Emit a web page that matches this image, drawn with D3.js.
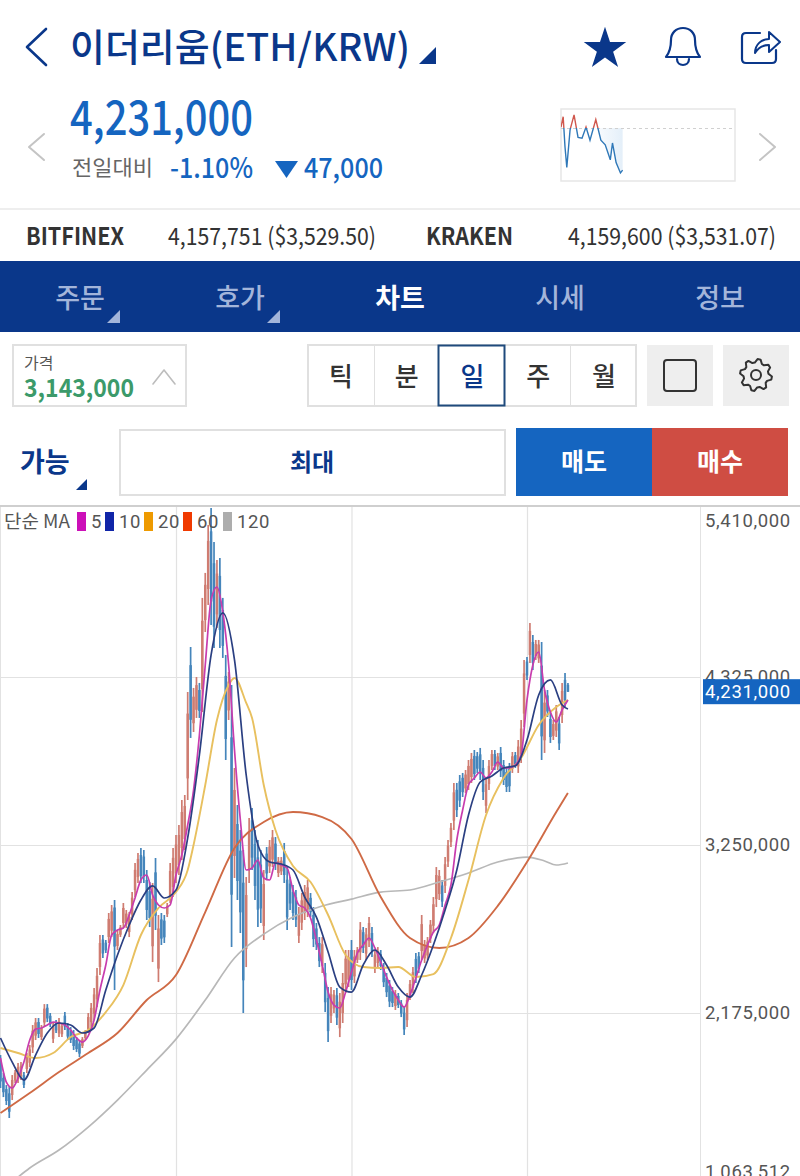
<!DOCTYPE html>
<html>
<head>
<meta charset="utf-8">
<style>
  html, body { margin: 0; padding: 0; background: #fff; }
  svg { display: block; }
  text { font-family: "Noto Sans CJK KR", Roboto, sans-serif; }
  .num { font-family: Roboto, "Noto Sans CJK KR", sans-serif; }
</style>
<script src="https://cdn.jsdelivr.net/npm/d3@7"></script>
</head>
<body>
<div id="chart"></div>
<script>
// prices below are in thousands of KRW
const candleOpen = [1864,1760,1688,1661,1650,1744,1753,1769,1777,1817,1857,1955,2030,2117,2021,2114,2209,2157,2010,2113,2045,2039,2158,2089,2065,2040,2002,1980,1965,2015,2073,2116,2171,2263,2469,2645,2625,2661,2702,2850,2604,2676,2751,2742,2693,2806,2961,3045,3186,3176,3026,2955,2602,3075,2459,2774,2766,2807,2930,2980,3068,3122,3231,3288,3676,4401,4029,4115,4242,4247,4689,4888,5257,5053,4726,4972,4754,4332,4111,3939,3180,3384,3214,3009,2584,3090,3408,3256,3171,3125,2732,3195,3113,3156,3259,3071,3081,3212,3028,3003,2949,2915,2669,2753,2815,2836,2912,2802,2716,2623,2477,2432,2271,2157,2204,2288,2077,2175,2358,2388,2578,2409,2515,2563,2692,2555,2635,2687,2460,2495,2552,2464,2400,2351,2315,2220,2284,2236,2177,2129,2284,2336,2521,2538,2572,2524,2543,2652,2733,2904,2936,2991,2989,3144,3268,3406,3603,3657,3680,3612,3640,3685,3820,3818,3830,3743,3501,3640,3756,3832,3752,3839,3762,3717,3738,3738,3825,3753,3830,4091,4424,4466,4549,4460,4444,4398,3920,4207,4057,3948,3982,4027,4082,4307,4275];
const candleHigh = [1906,1791,1714,1701,1778,1810,1855,1861,1797,1919,1970,2098,2143,2143,2098,2232,2232,2175,2117,2130,2143,2111,2181,2111,2085,2066,2021,2002,2021,2066,2175,2239,2335,2463,2674,2674,2642,2815,2866,2898,2706,2738,2879,2834,2821,2949,3135,3199,3231,3218,3090,3013,3007,3167,2802,2815,2802,2879,3135,3231,3314,3378,3538,3570,4229,4517,4255,4325,4287,4831,4991,5298,5407,5189,5074,5087,4831,4466,4357,4274,3743,3506,3346,3218,3045,3423,3487,3346,3282,3218,3090,3237,3282,3346,3301,3173,3173,3263,3109,3045,2994,2962,2853,2943,2994,3026,2943,2853,2751,2661,2661,2495,2341,2341,2322,2335,2303,2431,2578,2578,2642,2578,2597,2757,2725,2719,2789,2725,2578,2597,2578,2495,2431,2386,2341,2322,2303,2258,2213,2303,2386,2469,2559,2565,2802,2642,2661,2770,2917,3109,3090,3026,3173,3282,3391,3647,3647,3698,3711,3730,3794,3839,3858,3845,3871,3794,3685,3794,3858,3858,3839,3877,3794,3749,3775,3845,3845,3922,4050,4434,4453,4671,4594,4562,4562,4549,4242,4242,4095,4050,4146,4069,4287,4351,4287];
const candleLow = [1695,1637,1586,1503,1618,1727,1727,1746,1695,1791,1829,1919,2002,2015,2002,2085,2117,2085,1983,2047,2021,2021,2066,2002,1983,1938,1925,1893,1951,2002,2047,2085,2130,2213,2418,2527,2559,2623,2661,2322,2578,2661,2719,2719,2661,2770,2917,3007,3007,3007,2770,2725,2501,2706,2373,2610,2623,2789,2879,2917,3007,3058,3154,3218,3538,3935,3973,4063,4063,4101,4613,4786,4658,4511,4639,4511,4447,3794,4050,2597,3039,2898,2687,2175,2469,3007,3090,2898,2725,2751,2642,3026,3071,3109,3090,3045,3058,3007,2706,2834,2770,2725,2623,2706,2770,2789,2789,2597,2578,2469,2431,2181,1989,2111,2175,2098,2021,2111,2303,2341,2322,2367,2495,2514,2559,2514,2597,2533,2431,2469,2450,2341,2277,2213,2213,2194,2207,2149,2034,2085,2258,2303,2367,2431,2514,2495,2514,2623,2687,2853,2898,2853,2943,3109,3237,3346,3429,3493,3557,3583,3602,3647,3666,3711,3666,3538,3455,3602,3730,3730,3730,3685,3634,3589,3589,3711,3743,3711,3775,4005,4306,4415,4370,4434,4415,3794,3839,4069,3903,3922,3941,3858,4031,4133,4229];
const candleClose = [1737,1668,1612,1543,1746,1793,1829,1838,1715,1893,1942,2062,2115,2041,2079,2203,2140,2103,2090,2064,2119,2093,2089,2024,2003,1964,1944,1915,2007,2053,2149,2208,2294,2413,2623,2556,2576,2777,2825,2600,2680,2723,2847,2811,2789,2913,3091,3161,3052,3049,2834,2783,2906,2798,2716,2651,2659,2861,3084,3168,3253,3314,3461,3500,4091,4051,4199,4273,4108,4685,4915,5196,4808,4647,4987,4626,4524,3928,4296,2932,3602,3020,2819,2384,2930,3340,3169,2988,2836,2844,3000,3068,3240,3299,3132,3147,3150,3058,2787,2876,2815,2772,2807,2896,2949,2979,2820,2648,2613,2507,2615,2244,2059,2295,2293,2145,2247,2367,2523,2531,2386,2536,2577,2708,2592,2678,2751,2571,2549,2571,2476,2372,2308,2248,2239,2296,2226,2171,2070,2259,2360,2436,2405,2458,2744,2613,2632,2741,2871,3058,3052,2888,3127,3247,3360,3587,3473,3534,3588,3701,3756,3801,3704,3738,3707,3589,3639,3756,3832,3756,3817,3723,3666,3621,3626,3818,3763,3880,3995,4348,4335,4620,4415,4536,4533,3945,4161,4104,3941,4024,4105,3900,4236,4177,4231];

const ma5Days = d3.range(0, 195, 2);
const ma5 = [1887,1733,1695,1759,1861,2002,2072,2079,2098,2117,2111,2098,2066,2015,1989,2028,2130,2322,2482,2674,2706,2719,2802,2911,3026,3058,2930,2866,2847,2866,3058,3186,3378,3602,3954,4402,4818,4901,4741,4402,3858,3410,3090,3103,3154,3039,3026,3135,3122,3103,2962,2866,2847,2783,2642,2482,2309,2226,2207,2309,2437,2559,2610,2655,2591,2501,2405,2322,2258,2213,2290,2399,2514,2610,2693,2738,2866,2994,3282,3474,3634,3679,3717,3679,3717,3781,3743,3743,3762,3826,4178,4402,4485,4242,4101,4037,4114,4178];
const ma10Days = [...d3.range(0, 193, 4), 194];
const ma10 = [2015,1861,1746,1906,2047,2111,2098,2047,2079,2322,2546,2738,2898,2988,2911,2962,3295,3826,4466,4735,4434,3698,3250,3141,3128,3090,2917,2789,2565,2341,2309,2482,2578,2482,2341,2277,2418,2610,2834,3090,3442,3653,3692,3743,3756,3922,4210,4306,4146,4120];
const ma20Days = [0,6,12,18,24,30,36,42,48,54,60,64,66,70,74,78,80,84,86,90,94,100,106,112,118,124,130,136,142,148,154,160,166,172,178,184,190,194];
const ma20 = [1951,1919,1887,1919,2021,2066,2181,2354,2674,2847,2949,3090,3250,3634,4050,4274,4319,4159,4063,3634,3346,3116,3013,2802,2546,2469,2463,2469,2405,2424,2655,3026,3442,3679,3807,4018,4133,4178];
const ma60Days = [...d3.range(0, 191, 10), 194];
const ma60 = [1535,1663,1797,1919,2047,2258,2418,2821,3231,3397,3461,3429,3288,2917,2655,2591,2655,2860,3141,3461,3583];
const ma120Days = [6,10,20,30,40,50,60,70,80,90,100,110,120,130,140,150,160,170,180,186,190,194];
const ma120 = [1125,1183,1298,1445,1618,1810,2008,2258,2527,2680,2789,2860,2904,2949,2962,3013,3071,3141,3173,3148,3122,3135];

const yTicks = [5410, 4325, 3250, 2175, 1063.512];
const gridPrices = [4325, 3250, 2175];
const gridDays = [60, 120, 180];
const lastPrice = 4231;

// intraday sparkline in the header box
const sparkHours = [0,0.3,0.55,0.8,1.25,1.8,2.35,2.9,3.45,4,4.8,5.5,6.1,6.8,7.1,7.6,8.2,8.5];
const sparkPrices = [4279,4290,4258,4236,4276,4292,4268,4267,4279,4265,4287,4265,4260,4244,4262,4241,4230,4233];
const sparkPrevClose = 4278;

const navLabels = ['주문', '호가', '차트', '시세', '정보'];
const periodLabels = ['틱', '분', '일', '주', '월'];
const maNames = ['5', '10', '20', '60', '120'];
const maSwatch = ['#cc10b8', '#1025a8', '#ee9a00', '#f03a00', '#adadad'];

const navy = '#0a378a';
const blue = '#1565c0';

const svg = d3.select('#chart').append('svg')
    .attr('width', 800)
    .attr('height', 1176)
    .attr('viewBox', [0, 0, 800, 1176]);

function label(text, x, y, size, fill, opts = {}) {
    const t = svg.append('text')
        .attr('x', x)
        .attr('y', y)
        .attr('font-size', size)
        .attr('fill', fill)
        .attr('font-weight', opts.weight || 400)
        .attr('text-anchor', opts.anchor || 'start')
        .text(text);
    if (opts.cls) t.attr('class', opts.cls);
    if (opts.width) t.attr('textLength', opts.width).attr('lengthAdjust', 'spacingAndGlyphs');
    return t;
}

function stroke(d, color, width) {
    return svg.append('path').attr('d', d).attr('fill', 'none').attr('stroke', color)
        .attr('stroke-width', width).attr('stroke-linecap', 'round').attr('stroke-linejoin', 'round');
}

function box(x, y, w, h, fill, line, lineWidth = 2) {
    return svg.append('rect').attr('x', x).attr('y', y).attr('width', w).attr('height', h)
        .attr('fill', fill).attr('stroke', line || 'none').attr('stroke-width', lineWidth);
}

function tri(d, fill) {
    svg.append('path').attr('d', d).attr('fill', fill);
}

// Header
stroke('M46,29 L27,47 L46,65', navy, 2.6);
label('이더리움(ETH/KRW)', 70, 61, 38, navy, {weight: 500, width: 340});
tri('M436,47 L436,64 L419,64 Z', navy);
svg.append('path')
    .attr('d', d3.symbol(d3.symbolStar, 560)())
    .attr('transform', 'translate(605,49)')
    .attr('fill', navy);
stroke('M666,57 c4,-5 5,-10 5,-17 c0,-7 5,-12 12,-12 c7,0 12,5 12,12 c0,7 1,12 5,17 Z', navy, 2.2);
stroke('M677,59 c0,8 12,8 12,0', navy, 2.2);
stroke('M760,33 H746 q-4,0 -4,4 V59 q0,4 4,4 H772 q4,0 4,-4 V50', navy, 2.2);
stroke('M755,53 c0,-9 7,-14 14,-14 v-7 l11,10 l-11,10 v-7 c-6,0 -11,3 -14,8 Z', navy, 2);

label('4,231,000', 70, 135, 47, blue, {weight: 500, width: 183});
stroke('M44,134 L29,147 L44,160', '#c4c4c4', 2);
stroke('M760,134 L775,147 L760,160', '#c4c4c4', 2);
label('전일대비', 72, 175, 21, '#666', {width: 81});
label('-1.10%', 170, 178, 28, blue, {weight: 500, width: 83});
tri('M275,161 H298 L286.5,178 Z', blue);
label('47,000', 304, 178, 28, blue, {weight: 500, width: 79});

// Sparkline box
const sparkX = d3.scaleLinear().domain([0, 24]).range([561, 735]);
const sparkY = d3.scaleLinear().domain([sparkPrevClose, lastPrice]).range([128, 172]);
box(561, 109, 174, 72, '#fff', '#e6e6e6', 1.5);
const defs = svg.append('defs');
defs.append('clipPath').attr('id', 'sparkUp').append('rect').attr('x', 561).attr('y', 109).attr('width', 174).attr('height', 19);
defs.append('clipPath').attr('id', 'sparkDown').append('rect').attr('x', 561).attr('y', 128).attr('width', 174).attr('height', 53);
const sparkFade = defs.append('linearGradient').attr('id', 'sparkFade');
sparkFade.append('stop').attr('offset', '0.45').attr('stop-color', '#e4eff9').attr('stop-opacity', 0);
sparkFade.append('stop').attr('offset', '1').attr('stop-color', '#e4eff9').attr('stop-opacity', 1);
svg.append('path')
    .attr('d', d3.area().x((d, i) => sparkX(sparkHours[i])).y0(sparkY(sparkPrevClose)).y1(d => sparkY(d))(sparkPrices))
    .attr('fill', 'url(#sparkFade)')
    .attr('clip-path', 'url(#sparkDown)');
svg.append('line').attr('x1', 561).attr('x2', 735).attr('y1', 128.5).attr('y2', 128.5)
    .attr('stroke', '#d0d0d0').attr('stroke-dasharray', '3,3');
const sparkLine = d3.line().x((d, i) => sparkX(sparkHours[i])).y(d => sparkY(d));
[['sparkUp', '#d0584e'], ['sparkDown', '#2f78b8']].forEach(([clip, color]) => {
    svg.append('path').attr('d', sparkLine(sparkPrices)).attr('fill', 'none')
        .attr('stroke', color).attr('stroke-width', 1.4).attr('clip-path', `url(#${clip})`);
});

// Exchange strip
box(0, 208, 800, 2, '#eee');
label('BITFINEX', 26, 245, 24, '#333', {weight: 700, width: 98});
label('4,157,751 ($3,529.50)', 168, 245, 24, '#333', {width: 208});
label('KRAKEN', 426, 245, 24, '#333', {weight: 700, width: 87});
label('4,159,600 ($3,531.07)', 568, 245, 24, '#333', {width: 208});

// Nav bar
box(0, 261, 800, 71, navy);
navLabels.forEach((d, i) => {
    const active = d === '차트';
    label(d, 80 + i * 160, 308, 27, active ? '#fff' : '#a3b5da', {anchor: 'middle', weight: active ? 700 : 500});
});
tri('M120,310 V323 H107 Z', '#a3b5da');
tri('M280,310 V323 H267 Z', '#a3b5da');

// Order controls
box(13, 345, 173, 61, '#fff', '#e0e0e0');
label('가격', 24, 369, 16, '#555');
label('3,143,000', 24, 397, 25, '#3c9a6a', {weight: 700, width: 110});
stroke('M153,384 L164,370 L175,384', '#bdbdbd', 1.6);

box(308, 345, 328, 61, '#fff', '#e0e0e0');
[374, 570].forEach(x => box(x, 345, 1, 61, '#e0e0e0'));
periodLabels.forEach((d, i) => {
    label(d, 341 + i * 65.75, 386, 26, d === '일' ? navy : '#333', {anchor: 'middle', weight: 500});
});
box(438.5, 345.5, 66, 60, 'none', '#1f4a7c');

box(647, 345, 66, 61, '#eee');
svg.append('rect').attr('x', 664).attr('y', 360).attr('width', 32).attr('height', 31).attr('rx', 3)
    .attr('fill', 'none').attr('stroke', '#333').attr('stroke-width', 2);
box(723, 345, 66, 61, '#eee');
const gearRadii = d3.range(32).map(i => [(i + 0.5) * Math.PI / 16, i % 4 < 2 ? 16 : 12.5]);
svg.append('path')
    .attr('d', d3.lineRadial().curve(d3.curveLinearClosed)(gearRadii))
    .attr('transform', 'translate(756,375)')
    .attr('fill', 'none').attr('stroke', '#333').attr('stroke-width', 2).attr('stroke-linejoin', 'round');
svg.append('circle').attr('cx', 756).attr('cy', 375).attr('r', 5)
    .attr('fill', 'none').attr('stroke', '#333').attr('stroke-width', 2);

label('가능', 20, 472, 27, navy, {weight: 700});
tri('M87,479 V490 H76 Z', navy);
box(120, 430, 385, 65, '#fff', '#e0e0e0');
label('최대', 312, 471, 24, navy, {weight: 700, anchor: 'middle'});
box(516, 428, 136, 68, blue);
label('매도', 584, 471, 25, '#fff', {weight: 700, anchor: 'middle'});
box(652, 428, 136, 68, '#cf4d43');
label('매수', 720, 471, 25, '#fff', {weight: 700, anchor: 'middle'});

// Price chart
const x = d3.scaleLinear().domain([60, 120]).range([176, 351.5]);
const y = d3.scaleLinear().domain([2175, 4325]).range([1013, 677]);

box(0, 505, 800, 2, '#cfcfcf');

const plotW = 700, plotTop = 507, plotBottom = 1176;
defs.append('clipPath').attr('id', 'plot').append('rect')
    .attr('x', 0).attr('y', plotTop).attr('width', plotW).attr('height', plotBottom - plotTop);
defs.append('filter').attr('id', 'soft').append('feGaussianBlur').attr('stdDeviation', 0.35);

const gridY = svg.append('g').call(d3.axisLeft(y).tickValues(gridPrices).tickSize(-plotW).tickFormat(''));
const gridX = svg.append('g').attr('transform', `translate(0,${plotBottom})`)
    .call(d3.axisBottom(x).tickValues(gridDays).tickSize(-(plotBottom - plotTop)).tickFormat(''));
[gridY, gridX].forEach(g => {
    g.select('.domain').remove();
    g.selectAll('line').attr('stroke', '#e2e2e2').attr('stroke-width', 1.2);
});
box(0, plotTop, 1, plotBottom - plotTop, '#e2e2e2');
box(700, plotTop, 1, plotBottom - plotTop, '#e2e2e2');

const plot = svg.append('g').attr('clip-path', 'url(#plot)').append('g').attr('filter', 'url(#soft)');

const candleColor = i => candleClose[i] >= candleOpen[i] ? '#cf7c71' : '#4485bb';
const days = d3.range(candleOpen.length);
plot.append('g').selectAll('line').data(days).join('line')
    .attr('x1', i => x(i)).attr('x2', i => x(i))
    .attr('y1', i => y(candleHigh[i])).attr('y2', i => y(candleLow[i]))
    .attr('stroke', candleColor).attr('stroke-width', 1.7);
plot.append('g').selectAll('rect').data(days).join('rect')
    .attr('x', i => x(i) - 1.25).attr('width', 2.5)
    .attr('y', i => y(Math.max(candleOpen[i], candleClose[i])))
    .attr('height', i => Math.abs(y(candleOpen[i]) - y(candleClose[i])))
    .attr('fill', candleColor);

const maLines = [
    {days: ma120Days, values: ma120, color: '#b8b8b8', width: 1.7},
    {days: ma60Days, values: ma60, color: '#cf6a45', width: 1.9},
    {days: ma20Days, values: ma20, color: '#e8c05e', width: 1.9},
    {days: ma5Days, values: ma5, color: '#c83cae', width: 1.7},
    {days: ma10Days, values: ma10, color: '#2b3f82', width: 1.7}
];
maLines.forEach(m => {
    plot.append('path')
        .attr('d', d3.line().curve(d3.curveMonotoneX).x((d, i) => x(m.days[i])).y(d => y(d))(m.values))
        .attr('fill', 'none').attr('stroke', m.color).attr('stroke-width', m.width);
});

// Right axis; the outer two labels sit inside the visible band
const yAxis = svg.append('g').attr('transform', 'translate(700,0)')
    .call(d3.axisRight(y).tickValues(yTicks).tickSize(0).tickPadding(5).tickFormat(d => d3.format(',.0f')(d * 1000)));
yAxis.select('.domain').remove();
yAxis.selectAll('text')
    .attr('class', 'num')
    .attr('font-size', 18.5)
    .attr('fill', '#555')
    .attr('letter-spacing', 0.65)
    .attr('transform', d => d === 5410 ? 'translate(0,13)' : d === 1063.512 ? 'translate(0,-15)' : null);

const lastY = y(lastPrice);
box(703, lastY - 12.5, 97, 25, blue);
label(d3.format(',')(lastPrice * 1000), 705, lastY + 6.5, 18.5, '#fff', {cls: 'num'}).attr('letter-spacing', 0.65);

// Legend
label('단순 MA', 4, 528, 18, '#555', {width: 66});
const legendX = [77, 105, 144, 183, 223];
maNames.forEach((d, i) => {
    box(legendX[i], 512, 9, 19, maSwatch[i]);
    label(d, legendX[i] + 14, 528, 18.5, '#555', {cls: 'num'}).attr('letter-spacing', 0.6);
});
</script>
</body>
</html>
